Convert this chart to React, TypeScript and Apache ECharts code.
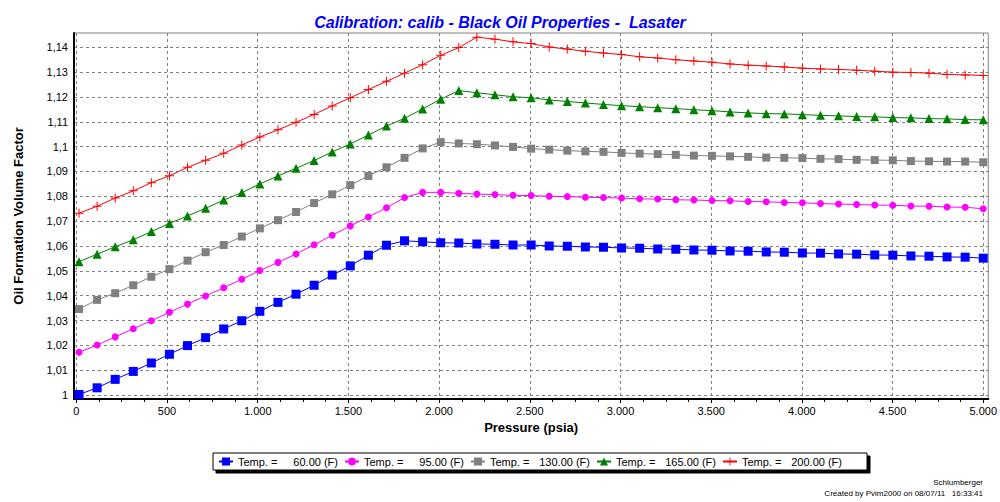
import React, { useEffect, useRef } from "react";
import * as echarts from "echarts";

const pressures = [
  14.7, 114.4, 214.1, 313.8, 413.5, 513.2, 612.9, 712.6, 812.4, 912.1,
  1011.8, 1111.5, 1211.2, 1310.9, 1410.6, 1510.3, 1610.0, 1709.7, 1809.4, 1909.1,
  2008.8, 2108.5, 2208.2, 2307.9, 2407.6, 2507.4, 2607.1, 2706.8, 2806.5, 2906.2,
  3005.9, 3105.6, 3205.3, 3305.0, 3404.7, 3504.4, 3604.1, 3703.8, 3803.5, 3903.2,
  4002.9, 4102.6, 4202.4, 4302.1, 4401.8, 4501.5, 4601.2, 4700.9, 4800.6, 4900.3,
  5000.0,
];

const temps = ["60.00 (F)", "95.00 (F)", "130.00 (F)", "165.00 (F)", "200.00 (F)"];

const bo60 = [
  1.0002, 1.0029, 1.0063, 1.0095, 1.0129, 1.0164, 1.0199, 1.0231, 1.0266, 1.0299,
  1.0337, 1.0373, 1.0406, 1.0442, 1.0483, 1.052, 1.0563, 1.0603, 1.0621, 1.0617,
  1.0613, 1.0612, 1.0608, 1.0607, 1.0604, 1.0604, 1.06, 1.0599, 1.0596, 1.0595,
  1.0592, 1.0591, 1.0588, 1.0587, 1.0584, 1.0583, 1.058, 1.0579, 1.0576, 1.0575,
  1.0572, 1.0571, 1.0568, 1.0567, 1.0564, 1.0563, 1.056, 1.0559, 1.0556, 1.0555,
  1.0551,
];

const bo95 = [
  1.0172, 1.0201, 1.0234, 1.0267, 1.0299, 1.0333, 1.0366, 1.0399, 1.0432, 1.0466,
  1.0501, 1.0534, 1.0568, 1.0605, 1.0643, 1.0681, 1.0717, 1.0754, 1.0795, 1.0816,
  1.0816, 1.0812, 1.0809, 1.0807, 1.0804, 1.0803, 1.08, 1.0799, 1.0796, 1.0795,
  1.0793, 1.079, 1.0789, 1.0786, 1.0785, 1.0783, 1.0782, 1.0779, 1.0778, 1.0775,
  1.0774, 1.0771, 1.0769, 1.0767, 1.0765, 1.0764, 1.0761, 1.076, 1.0757, 1.0756,
  1.075,
];

const bo130 = [
  1.0346, 1.0383, 1.041, 1.0442, 1.0476, 1.0507, 1.0541, 1.0575, 1.0604, 1.0638,
  1.0671, 1.0704, 1.0737, 1.0773, 1.0808, 1.0845, 1.0882, 1.0917, 1.0955, 1.0993,
  1.1018, 1.1013, 1.101, 1.1005, 1.0999, 1.0992, 1.0988, 1.0984, 1.0981, 1.0979,
  1.0975, 1.0972, 1.097, 1.0967, 1.0964, 1.0963, 1.0961, 1.0959, 1.0956, 1.0955,
  1.0954, 1.0951, 1.095, 1.0947, 1.0946, 1.0945, 1.0942, 1.0941, 1.094, 1.094,
  1.0937,
];

const bo165 = [
  1.0537, 1.0567, 1.0597, 1.0625, 1.0658, 1.0691, 1.0721, 1.0752, 1.0785, 1.0815,
  1.085, 1.0882, 1.0913, 1.0944, 1.0979, 1.1011, 1.1047, 1.1083, 1.1114, 1.1152,
  1.1191, 1.1226, 1.1217, 1.1209, 1.1201, 1.1197, 1.1188, 1.1182, 1.1176, 1.117,
  1.1165, 1.1161, 1.1157, 1.1153, 1.1149, 1.1145, 1.114, 1.1136, 1.1133, 1.1132,
  1.1129, 1.1126, 1.1124, 1.1121, 1.112, 1.1117, 1.1116, 1.1113, 1.1112, 1.1109,
  1.1108,
];

const bo200 = [
  1.0732, 1.076, 1.0793, 1.0822, 1.0855, 1.0883, 1.0917, 1.0945, 1.0973, 1.1007,
  1.1039, 1.1068, 1.1098, 1.113, 1.1164, 1.1197, 1.123, 1.1263, 1.1296, 1.133,
  1.1368, 1.1399, 1.1441, 1.1433, 1.1422, 1.1415, 1.1401, 1.1393, 1.1384, 1.1377,
  1.1371, 1.1362, 1.1357, 1.135, 1.1345, 1.134, 1.1333, 1.1328, 1.1325, 1.1321,
  1.1316, 1.1313, 1.1311, 1.1308, 1.1304, 1.13, 1.1299, 1.1296, 1.1291, 1.1289,
  1.1287,
];

const yTicks = [1, 1.01, 1.02, 1.03, 1.04, 1.05, 1.06, 1.07, 1.08, 1.09, 1.1, 1.11, 1.12, 1.13, 1.14];
const xLabels = [0, 500, 1000, 1500, 2000, 2500, 3000, 3500, 4000, 4500, 5000];
const xMinorTicks = [
  0, 125, 250, 375, 500, 625, 750, 875, 1000, 1125, 1250, 1375, 1500, 1625, 1750, 1875,
  2000, 2125, 2250, 2375, 2500, 2625, 2750, 2875, 3000, 3125, 3250, 3375, 3500, 3625,
  3750, 3875, 4000, 4125, 4250, 4375, 4500, 4625, 4750, 4875, 5000,
];

const FONT = "Liberation Sans, Arial, sans-serif";

export default function App() {
  const ref = useRef<HTMLDivElement>(null);

  useEffect(() => {
    if (!ref.current) return;
    const chart = echarts.init(ref.current, null, { renderer: "svg" });

    const seriesDefs = [
      { vals: bo60, color: "#0000ff", symbol: "rect", size: 9 },
      { vals: bo95, color: "#ff00ff", symbol: "circle", size: 7 },
      { vals: bo130, color: "#808080", symbol: "rect", size: 8 },
      { vals: bo165, color: "#008000", symbol: "triangle", size: 9 },
      { vals: bo200, color: "#ff0000", symbol: "path://M4,0h1v9h-1z M0,4h9v1h-9z", size: 9 },
    ];

    const series = seriesDefs.map((d, i) => ({
      name: temps[i],
      type: "line",
      xAxisIndex: 0,
      yAxisIndex: 0,
      data: pressures.map((p, j) => [p, d.vals[j]]),
      symbol: d.symbol,
      symbolSize: d.size,
      showSymbol: true,
      lineStyle: { color: d.color, width: 1 },
      itemStyle: { color: d.color },
      emphasis: { disabled: true },
    }));

    const xFmt = (v: number) =>
      String(Math.round(v)).replace(/\B(?=(\d{3})+(?!\d))/g, ".");
    const yFmt = (v: number) => String(Math.round(v * 100) / 100).replace(".", ",");

    chart.setOption({
      animation: false,
      backgroundColor: "#ffffff",
      title: {
        text: "Calibration: calib - Black Oil Properties -  Lasater",
        left: "center",
        top: 9,
        textStyle: {
          color: "#0000ff",
          fontStyle: "italic",
          fontWeight: "bold",
          fontSize: 16,
          fontFamily: FONT,
        },
      },
      legend: {
        left: 213,
        top: 453,
        orient: "horizontal",
        itemWidth: 14,
        itemHeight: 10,
        itemGap: 6,
        padding: [3, 25, 3, 5],
        backgroundColor: "#ffffff",
        borderColor: "#000000",
        borderWidth: 1,
        shadowColor: "#000000",
        shadowOffsetX: 3,
        shadowOffsetY: 3,
        shadowBlur: 0,
        data: temps,
        formatter: (name: string) => `{a|Temp. =}{b|${name}}`,
        textStyle: {
          fontFamily: FONT,
          fontSize: 11,
          color: "#000000",
          rich: {
            a: { width: 45, fontSize: 11, fontFamily: FONT },
            b: { width: 55, align: "right", fontSize: 11, fontFamily: FONT },
          },
        },
      },
      grid: {
        left: 74,
        right: 10,
        top: 33,
        bottom: 103,
        show: true,
        borderColor: "#808080",
        borderWidth: 1,
        backgroundColor: "#ffffff",
      },
      xAxis: [
        {
          type: "value",
          min: -13,
          max: 5027.5,
          position: "bottom",
          name: "Pressure (psia)",
          nameLocation: "middle",
          nameGap: 20,
          nameTextStyle: { fontFamily: FONT, fontWeight: "bold", fontSize: 13, color: "#000" },
          axisLine: { show: true, onZero: false, lineStyle: { color: "#000", width: 2 } },
          axisTick: { show: true, length: 4, customValues: xLabels, lineStyle: { color: "#000" } },
          axisLabel: {
            customValues: xLabels,
            formatter: xFmt,
            fontFamily: FONT,
            fontSize: 11,
            color: "#000",
            margin: 6,
          },
          splitLine: { show: true, lineStyle: { color: "#808080", type: [3, 3], width: 1 } },
        },
        {
          type: "value",
          min: -13,
          max: 5027.5,
          position: "bottom",
          axisLine: { show: false },
          axisLabel: { show: false },
          splitLine: { show: false },
          axisTick: { show: true, length: 3, customValues: xMinorTicks, lineStyle: { color: "#000" } },
        },
      ],
      yAxis: {
        type: "value",
        min: 0.99839,
        max: 1.14577,
        name: "Oil Formation Volume Factor",
        nameLocation: "middle",
        nameGap: 49,
        nameTextStyle: { fontFamily: FONT, fontWeight: "bold", fontSize: 13, color: "#000" },
        axisLine: { show: true, onZero: false, lineStyle: { color: "#000", width: 2 } },
        axisTick: { show: false, customValues: yTicks },
        axisLabel: {
          customValues: yTicks,
          formatter: yFmt,
          fontFamily: FONT,
          fontSize: 11,
          color: "#000",
          margin: 6,
        },
        splitLine: { show: true, lineStyle: { color: "#808080", type: [3, 3], width: 1 } },
      },
      graphic: [
        {
          type: "text",
          right: 17,
          top: 478,
          style: { text: "Schlumberger", font: `8px ${FONT}`, fill: "#000" },
        },
        {
          type: "text",
          right: 17,
          top: 489,
          style: { text: "Created by Pvim2000 on 08/07/11   16:33:41", font: `8px ${FONT}`, fill: "#000" },
        },
      ],
      series,
    });

    return () => chart.dispose();
  }, []);

  return (
    <div
      ref={ref}
      style={{ position: "fixed", left: 0, top: 0, width: 1000, height: 502, background: "#fff" }}
    />
  );
}
